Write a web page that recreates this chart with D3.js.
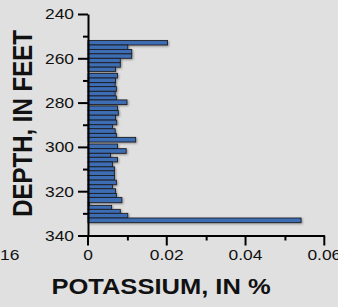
<!DOCTYPE html>
<html>
<head>
<meta charset="utf-8">
<script src="https://cdn.jsdelivr.net/npm/d3@7"></script>
<style>
  html, body { margin: 0; padding: 0; background: #e0e0e0; }
  svg { display: block; font-family: "Liberation Sans", Arial, sans-serif; }
</style>
</head>
<body>
<div id="chart"></div>
<script>
const SIZE = { width: 338, height: 307 }

// sample intervals (feet) and potassium (%)
const depthTop = [252, 254, 256, 258, 260, 262, 264, 266.8, 268.9, 271, 272.8, 274.9, 277, 278.8,
  281.5, 283.6, 285.7, 287.9, 290, 291.8, 293.9, 295.7, 298.7, 300.8, 302.9, 304.7, 306.8, 309,
  310.8, 312.9, 315, 317.1, 318.9, 321, 322.8, 325.2, 326.4, 328.2, 330, 332.1]
const depthBase = [254, 256, 258, 260, 262, 264, 265.9, 268.9, 271, 272.8, 274.9, 277, 278.8, 280.9,
  283.6, 285.7, 287.9, 290, 291.8, 293.9, 295.7, 297.8, 300.8, 302.9, 304.7, 306.8, 309, 310.8,
  312.9, 315, 317.1, 318.9, 321, 322.8, 325.2, 326.4, 328.2, 330, 332.1, 334.2]
const potassium = [0.0202, 0.0101, 0.0111, 0.0111, 0.0082, 0.0082, 0.0070, 0.0075, 0.0070, 0.0069,
  0.0072, 0.0069, 0.0072, 0.0099, 0.0075, 0.0077, 0.0070, 0.0073, 0.0062, 0.0069, 0.0072, 0.0121,
  0.0075, 0.0097, 0.0057, 0.0075, 0.0062, 0.0067, 0.0067, 0.0067, 0.0072, 0.0062, 0.0070, 0.0072,
  0.0086, 0.0004, 0.0060, 0.0082, 0.0101, 0.0541]

const depthTicks = [240, 260, 280, 300, 320, 340]
const depthMinor = [250, 270, 290, 310, 330]
const kTicks = [0, 0.02, 0.04, 0.06]
const kMinor = [0.01, 0.03, 0.05]
const kLabels = ['0', '0.02', '0.04', '0.06']

const STRETCH = 1.16

const svg = d3.select('#chart')
  .append('svg')
  .attr('width', SIZE.width)
  .attr('height', SIZE.height)

svg.append('rect')
  .attr('width', SIZE.width)
  .attr('height', SIZE.height)
  .attr('fill', '#e0e0e0')

const defs = svg.append('defs')
defs.append('filter')
  .attr('id', 'shadow')
  .attr('x', '-10%').attr('y', '-50%')
  .attr('width', '130%').attr('height', '250%')
  .append('feDropShadow')
  .attr('dx', 1).attr('dy', 1)
  .attr('stdDeviation', 0.8)
  .attr('flood-color', '#555')
  .attr('flood-opacity', 0.6)

const x = d3.scaleLinear().domain([0, 0.06]).range([88, 324.3])
const y = d3.scaleLinear().domain([240, 340]).range([14, 235.5])

const rows = potassium.map((v, i) => ({ top: depthTop[i], base: depthBase[i], value: v }))

svg.append('g')
  .attr('class', 'bars')
  .attr('filter', 'url(#shadow)')
  .selectAll('rect')
  .data(rows)
  .enter()
  .append('rect')
  .attr('x', x(0))
  .attr('y', d => y(d.top))
  .attr('width', d => Math.max(0.5, x(d.value) - x(0)))
  .attr('height', d => y(d.base) - y(d.top))
  .attr('fill', '#3e6eb4')
  .attr('stroke', '#1c1c24')
  .attr('stroke-width', 0.9)

// y axis
const yAxis = svg.append('g')
  .attr('transform', `translate(${x(0)},0)`)
  .call(d3.axisLeft(y).tickValues(depthTicks).tickSize(10).tickSizeOuter(0))
svg.append('g')
  .attr('transform', `translate(${x(0)},0)`)
  .call(d3.axisLeft(y).tickValues(depthMinor).tickSize(5).tickSizeOuter(0).tickFormat(''))
  .select('.domain').remove()

// x axis
const xAxis = svg.append('g')
  .attr('transform', `translate(0,${y(340)})`)
  .call(d3.axisBottom(x).tickValues(kTicks).tickSize(10).tickSizeOuter(0)
    .tickFormat((d, i) => kLabels[i]))
svg.append('g')
  .attr('transform', `translate(0,${y(340)})`)
  .call(d3.axisBottom(x).tickValues(kMinor).tickSize(5).tickSizeOuter(0).tickFormat(''))
  .select('.domain').remove()

svg.selectAll('.domain, .tick line')
  .attr('stroke', '#000')
  .attr('stroke-width', 2)

yAxis.selectAll('text')
  .attr('x', -14 / STRETCH)
  .attr('transform', `scale(${STRETCH},1)`)
  .attr('font-size', 15)
  .attr('font-family', '"Liberation Sans", Arial, sans-serif')
  .attr('fill', '#111')

xAxis.selectAll('text')
  .attr('y', 25)
  .attr('dy', 0)
  .attr('transform', `scale(${STRETCH},1)`)
  .attr('font-size', 15)
  .attr('font-family', '"Liberation Sans", Arial, sans-serif')
  .attr('fill', '#111')
xAxis.selectAll('.tick')
  .attr('transform', d => `translate(${x(d)},0)`)
xAxis.selectAll('.tick text')
  .attr('x', 0)

// clipped label from the neighbouring panel
svg.append('text')
  .attr('transform', `translate(0,260) scale(${STRETCH},1)`)
  .attr('font-size', 15)
  .attr('fill', '#111')
  .text('16')

// titles
svg.append('text')
  .attr('transform', `translate(161,294) scale(${STRETCH},1)`)
  .attr('text-anchor', 'middle')
  .attr('font-size', 22)
  .attr('font-weight', 'bold')
  .attr('fill', '#111')
  .text('POTASSIUM, IN %')

svg.append('text')
  .attr('transform', `translate(31.5,123.5) scale(${STRETCH},1) rotate(-90)`)
  .attr('text-anchor', 'middle')
  .attr('font-size', 24)
  .attr('font-weight', 'bold')
  .attr('fill', '#111')
  .text('DEPTH, IN FEET')
</script>
</body>
</html>
